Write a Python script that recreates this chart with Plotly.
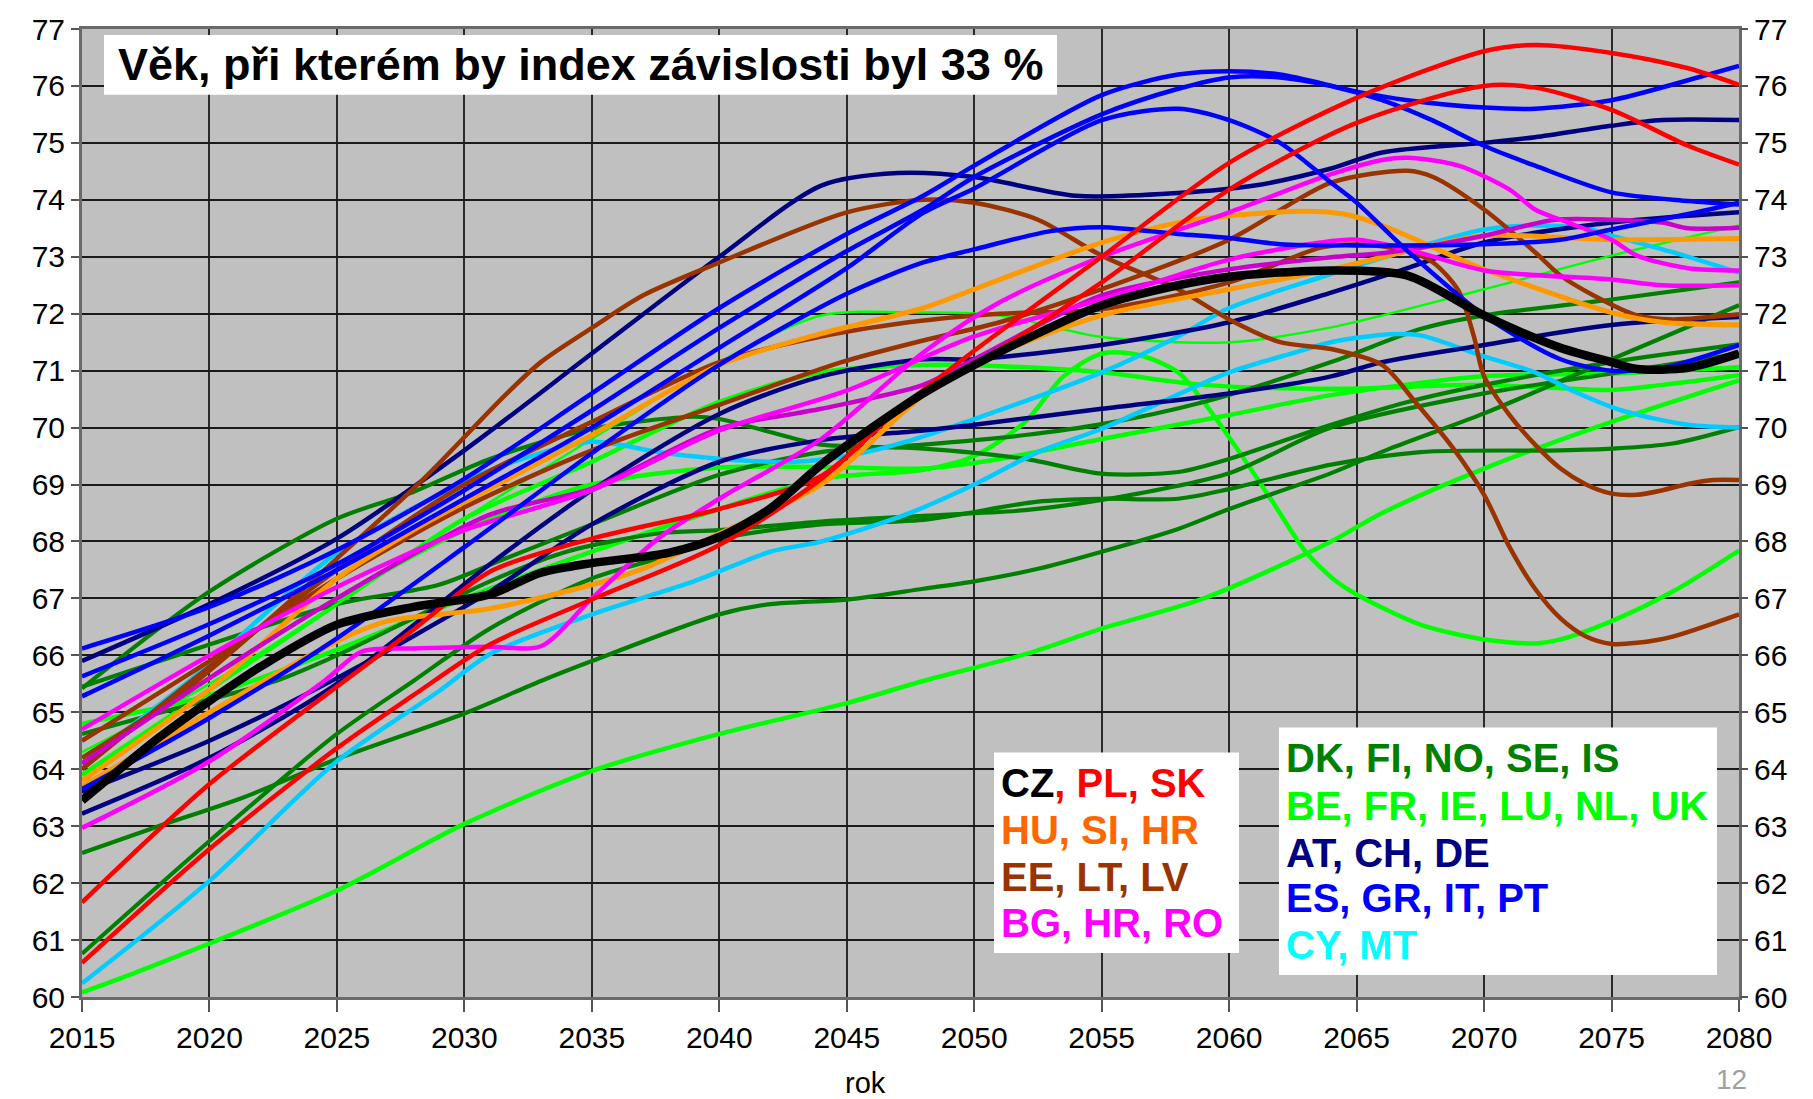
import plotly.graph_objects as go

# ---------------- data ----------------
CZ_YR = [2015, 2018, 2020, 2022, 2025, 2028, 2031, 2033, 2035, 2038, 2040, 2042, 2044, 2046, 2048, 2050, 2052, 2055, 2058, 2060, 2064, 2067, 2070, 2073, 2075, 2076, 2078, 2080]
CZ = [63.45, 64.55, 65.2, 65.8, 66.54, 66.85, 67.07, 67.45, 67.62, 67.8, 68.08, 68.58, 69.35, 70.0, 70.6, 71.1, 71.55, 72.15, 72.5, 72.65, 72.76, 72.67, 71.97, 71.4, 71.15, 71.03, 71.05, 71.3]

RED_A_YR = [2015, 2020, 2025, 2028, 2031, 2035, 2040, 2044, 2047, 2050, 2055, 2060, 2065, 2070, 2072, 2075, 2078, 2080]
RED_A = [61.66, 63.74, 65.45, 66.45, 67.47, 68.05, 68.57, 69.15, 70.3, 71.1, 72.55, 74.18, 75.35, 76.0, 75.97, 75.58, 74.95, 74.62]
RED_B_YR = [2015, 2020, 2025, 2028, 2031, 2035, 2040, 2044, 2047, 2050, 2055, 2060, 2065, 2070, 2072, 2075, 2078, 2080]
RED_B = [60.6, 62.6, 64.37, 65.3, 66.19, 66.98, 67.94, 69.1, 70.3, 71.35, 73.0, 74.65, 75.79, 76.61, 76.72, 76.58, 76.31, 76.02]

BLUE_1_YR = [2015, 2020, 2025, 2030, 2035, 2040, 2045, 2048, 2050, 2055, 2058, 2060, 2062, 2065, 2067, 2070, 2072, 2075, 2078, 2080]
BLUE_1 = [66.12, 66.85, 67.85, 69.1, 70.6, 72.1, 73.4, 74.07, 74.6, 75.84, 76.2, 76.26, 76.2, 75.9, 75.75, 75.62, 75.6, 75.75, 76.1, 76.35]
BLUE_2_YR = [2015, 2020, 2025, 2030, 2035, 2040, 2045, 2048, 2050, 2055, 2058, 2060, 2062, 2064, 2066, 2068, 2070, 2072, 2075, 2078, 2080]
BLUE_2 = [65.63, 66.55, 67.6, 68.9, 70.3, 71.75, 73.1, 73.83, 74.4, 75.5, 75.95, 76.15, 76.15, 76.0, 75.75, 75.39, 74.95, 74.6, 74.13, 73.98, 73.92]
BLUE_3_YR = [2015, 2020, 2025, 2030, 2035, 2040, 2045, 2048, 2050, 2055, 2058, 2060, 2062, 2064, 2065, 2067, 2070, 2073, 2075, 2077, 2080]
BLUE_3 = [65.28, 66.35, 67.5, 68.75, 70.0, 71.4, 72.8, 73.77, 74.2, 75.4, 75.6, 75.4, 75.0, 74.3, 73.95, 73.1, 71.97, 71.2, 71.0, 71.05, 71.45]
BLUE_4_YR = [2015, 2020, 2025, 2030, 2035, 2040, 2045, 2048, 2050, 2053, 2055, 2058, 2060, 2062, 2065, 2070, 2073, 2075, 2078, 2080]
BLUE_4 = [63.65, 64.9, 66.3, 67.9, 69.55, 71.1, 72.35, 72.9, 73.13, 73.45, 73.52, 73.4, 73.33, 73.22, 73.2, 73.22, 73.3, 73.48, 73.75, 73.95]

NAVY_1_YR = [2015, 2020, 2025, 2030, 2035, 2040, 2044, 2047, 2050, 2054, 2058, 2061, 2064, 2066, 2070, 2072, 2075, 2077, 2080]
NAVY_1 = [65.9, 66.9, 68.05, 69.6, 71.3, 73.0, 74.25, 74.47, 74.4, 74.07, 74.12, 74.25, 74.55, 74.83, 75.0, 75.1, 75.3, 75.4, 75.4]
NAVY_2_YR = [2015, 2020, 2025, 2031, 2035, 2040, 2044, 2048, 2050, 2055, 2060, 2064, 2067, 2070, 2075, 2080]
NAVY_2 = [63.22, 64.2, 65.5, 67.6, 68.9, 70.24, 70.9, 71.2, 71.2, 71.45, 71.85, 72.37, 72.8, 73.25, 73.6, 73.78]
NAVY_3_YR = [2015, 2020, 2025, 2031, 2035, 2040, 2044, 2048, 2050, 2055, 2060, 2064, 2066, 2070, 2075, 2080]
NAVY_3 = [63.6, 64.5, 65.6, 67.12, 68.3, 69.4, 69.78, 69.95, 70.05, 70.33, 70.6, 70.9, 71.15, 71.45, 71.8, 71.94]

BROWN_1_YR = [2015, 2019, 2022, 2025, 2028.4, 2031.6, 2033, 2035, 2037, 2040, 2045, 2048, 2050, 2052.5, 2055, 2058, 2060, 2062, 2064, 2066, 2067.3, 2068.8, 2070, 2071, 2072, 2073, 2074, 2075, 2076, 2077.4, 2080]
BROWN_1 = [64.2, 65.37, 66.5, 67.7, 69.1, 70.57, 71.15, 71.75, 72.32, 72.9, 73.78, 74.0, 73.95, 73.65, 73.02, 72.43, 71.9, 71.5, 71.38, 71.1, 70.45, 69.63, 68.82, 67.9, 67.17, 66.65, 66.33, 66.2, 66.22, 66.33, 66.72]
BROWN_2_YR = [2015, 2020, 2025, 2030, 2035, 2040, 2044.8, 2048, 2051, 2055, 2060, 2064, 2067, 2068, 2070, 2072, 2073, 2074.3, 2076, 2077.4, 2080]
BROWN_2 = [64.5, 65.9, 67.35, 68.6, 69.6, 70.4, 71.15, 71.53, 71.85, 72.43, 73.3, 74.3, 74.51, 74.4, 73.83, 73.08, 72.67, 72.32, 71.97, 71.9, 71.99]
BROWN_3_YR = [2015, 2020, 2025, 2030, 2035, 2040, 2044, 2048, 2051, 2055, 2060, 2063.6, 2065.3, 2067, 2068, 2069, 2069.6, 2070, 2071, 2072, 2073, 2074, 2075, 2076, 2077, 2078, 2079, 2080]
BROWN_3 = [64.0, 65.8, 67.5, 69.0, 70.1, 71.15, 71.6, 71.88, 72.0, 72.08, 72.55, 73.16, 73.21, 73.1, 72.9, 72.4, 71.6, 70.9, 70.22, 69.7, 69.28, 69.0, 68.84, 68.82, 68.9, 69.01, 69.08, 69.08]

ORANGE_1_YR = [2015, 2020, 2025, 2028, 2031, 2035, 2040, 2044, 2048, 2051, 2055, 2058, 2060, 2063, 2064.5, 2066, 2070, 2075, 2077, 2080]
ORANGE_1 = [63.8, 65.4, 67.35, 68.2, 68.93, 69.87, 71.1, 71.65, 72.1, 72.6, 73.25, 73.6, 73.72, 73.8, 73.75, 73.55, 72.78, 72.02, 71.85, 71.8]
ORANGE_2_YR = [2015, 2020, 2025, 2027, 2031, 2035, 2037, 2040, 2044, 2048, 2050.4, 2055, 2060, 2064, 2067, 2070, 2075, 2080]
ORANGE_2 = [63.7, 65.0, 66.25, 66.6, 66.82, 67.24, 67.52, 68.14, 69.0, 70.57, 71.2, 71.97, 72.43, 72.78, 73.1, 73.37, 73.3, 73.32]

MAGENTA_1_YR = [2015, 2020, 2024.5, 2026, 2028, 2031, 2033, 2035, 2037.6, 2040, 2044, 2048, 2051, 2055, 2060, 2064, 2066, 2067, 2069, 2071, 2072, 2073, 2075, 2076, 2078, 2080]
MAGENTA_1 = [62.97, 64.14, 65.55, 66.07, 66.12, 66.15, 66.16, 67.0, 68.05, 68.75, 69.8, 71.32, 72.2, 73.0, 73.78, 74.45, 74.7, 74.74, 74.6, 74.18, 73.83, 73.65, 73.3, 73.02, 72.8, 72.76]
MAGENTA_2_YR = [2015, 2020, 2025, 2030, 2035, 2040, 2045, 2050, 2055, 2060, 2063.6, 2065, 2067, 2070, 2075, 2077, 2080]
MAGENTA_2 = [64.7, 66.0, 67.2, 68.2, 68.9, 69.95, 70.65, 71.6, 72.25, 72.95, 73.25, 73.3, 73.13, 72.76, 72.6, 72.5, 72.5]
PURPLE_YR = [2015, 2020, 2025, 2031, 2035, 2040, 2044, 2048, 2050, 2055, 2060, 2064, 2066.3, 2070, 2072.8, 2075, 2077, 2078, 2080]
PURPLE = [64.1, 65.6, 67.0, 68.47, 68.93, 69.98, 70.33, 70.75, 71.2, 72.32, 72.78, 72.99, 73.08, 73.37, 73.65, 73.65, 73.6, 73.5, 73.51]

CYAN_1_YR = [2015, 2018.7, 2020, 2025, 2030, 2031.6, 2035, 2037.6, 2040, 2043, 2045, 2047.3, 2050, 2055, 2058, 2060, 2063.6, 2066.3, 2070, 2072, 2074, 2075, 2077.4, 2080]
CYAN_1 = [64.1, 65.37, 65.85, 67.8, 69.05, 69.35, 69.75, 69.57, 69.45, 69.4, 69.5, 69.75, 70.15, 70.97, 71.6, 72.1, 72.64, 73.02, 73.48, 73.55, 73.5, 73.37, 73.08, 72.72]
CYAN_2_YR = [2015, 2020, 2025, 2029, 2031, 2035, 2039, 2042, 2044, 2047.3, 2050, 2052.5, 2055, 2060, 2062.6, 2064, 2066.3, 2067.5, 2070, 2072, 2073.6, 2075.4, 2078, 2080]
CYAN_2 = [60.24, 62.04, 64.14, 65.37, 66.02, 66.72, 67.3, 67.82, 68.0, 68.47, 69.0, 69.57, 69.98, 70.97, 71.32, 71.5, 71.64, 71.62, 71.25, 70.97, 70.62, 70.3, 70.05, 70.0]

DGREEN_A_YR = [2015, 2020, 2025, 2028, 2031, 2035, 2039, 2040, 2043, 2044, 2048, 2052, 2055, 2058, 2060, 2064, 2067, 2070, 2075, 2080]
DGREEN_A = [65.42, 67.12, 68.4, 68.87, 69.45, 69.98, 70.19, 70.15, 69.8, 69.7, 69.63, 69.45, 69.19, 69.22, 69.45, 70.05, 70.45, 70.75, 71.15, 71.46]
DGREEN_B_YR = [2015, 2020, 2025, 2029, 2031.6, 2035, 2040, 2044, 2048, 2052, 2055, 2059, 2064, 2067.5, 2070, 2075, 2080]
DGREEN_B = [65.45, 66.19, 66.9, 67.24, 67.7, 68.3, 69.17, 69.57, 69.7, 69.87, 70.06, 70.45, 71.15, 71.73, 71.97, 72.25, 72.55]
DGREEN_C_YR = [2015, 2018, 2021.3, 2025, 2030, 2033, 2035, 2040, 2042, 2045, 2048, 2050, 2052.5, 2055, 2058, 2060, 2064, 2066.3, 2070, 2075, 2080]
DGREEN_C = [62.53, 63.0, 63.5, 64.18, 64.98, 65.55, 65.9, 66.72, 66.9, 66.98, 67.17, 67.3, 67.52, 67.82, 68.22, 68.57, 69.2, 69.63, 70.25, 71.2, 72.15]
DGREEN_D_YR = [2015, 2020, 2025, 2028, 2031, 2035, 2037.6, 2040, 2044, 2048, 2052.5, 2055, 2058, 2060, 2064, 2067.5, 2073, 2075, 2077.4, 2080]
DGREEN_D = [60.76, 62.74, 64.62, 65.55, 66.47, 67.35, 67.7, 68.05, 68.3, 68.38, 68.7, 68.75, 68.75, 68.92, 69.35, 69.57, 69.6, 69.63, 69.72, 70.01]
DGREEN_E_YR = [2015, 2018.7, 2022.6, 2025, 2031, 2034, 2037.6, 2040, 2044, 2048, 2052, 2055, 2060, 2064, 2070, 2075, 2080]
DGREEN_E = [64.62, 65.07, 65.55, 66.0, 67.3, 67.82, 68.14, 68.2, 68.35, 68.45, 68.55, 68.73, 69.2, 70.0, 70.6, 70.95, 71.3]

LGREEN_1_YR = [2015, 2017, 2020, 2025, 2030, 2035, 2040, 2045, 2048, 2052, 2055, 2059, 2064, 2066, 2070, 2075, 2080]
LGREEN_1 = [60.08, 60.41, 60.94, 61.87, 63.04, 63.97, 64.62, 65.16, 65.55, 66.02, 66.47, 67.0, 68.0, 68.5, 69.28, 70.1, 70.83]
LGREEN_2_YR = [2015, 2020, 2025, 2030, 2035, 2040, 2044, 2048, 2050, 2052, 2053.5, 2055, 2056.5, 2058, 2059, 2060.4, 2061.7, 2063, 2064.2, 2065, 2067.5, 2070, 2072, 2073, 2075, 2077.4, 2080]
LGREEN_2 = [64.8, 65.3, 66.1, 67.0, 67.82, 68.57, 69.1, 69.26, 69.5, 70.1, 70.9, 71.3, 71.27, 70.97, 70.45, 69.57, 68.7, 67.82, 67.3, 67.07, 66.54, 66.28, 66.21, 66.28, 66.6, 67.12, 67.84]
LGREEN_3_YR = [2015, 2020, 2025, 2030, 2035, 2040, 2044, 2048, 2052, 2055, 2059, 2064, 2070, 2075, 2077, 2080]
LGREEN_3 = [63.9, 65.4, 66.9, 68.4, 69.4, 70.45, 70.97, 71.1, 71.06, 70.97, 70.75, 70.68, 70.75, 70.66, 70.75, 70.92]
LGREEN_4_YR = [2015, 2020, 2025, 2030, 2035, 2040, 2044, 2048, 2051, 2055, 2060, 2064, 2070, 2075, 2080]
LGREEN_4 = [64.3, 65.5, 66.9, 68.4, 69.8, 71.15, 71.97, 72.02, 71.97, 71.59, 71.5, 71.76, 72.43, 73.02, 73.55]
LGREEN_5_YR = [2015, 2020, 2025, 2030, 2035, 2040, 2045, 2048, 2051, 2055, 2060, 2064, 2070, 2075, 2080]
LGREEN_5 = [64.2, 65.6, 67.0, 68.2, 69.0, 69.3, 69.3, 69.28, 69.45, 69.8, 70.22, 70.57, 70.9, 70.95, 71.06]

# legend rows (text, colour)
LEGEND_LEFT = [("CZ", "#000000", ", PL, SK", "#FF0000"),
               ("HU, SI, HR", "#FF6600", "", ""),
               ("EE, LT, LV", "#993300", "", ""),
               ("BG, HR, RO", "#FF00FF", "", "")]
LEGEND_RIGHT = [("DK, FI, NO, SE, IS", "#008000"),
                ("BE, FR, IE, LU, NL, UK", "#00FF00"),
                ("AT, CH, DE", "#000080"),
                ("ES, GR, IT, PT", "#0000FF"),
                ("CY, MT", "#00FFFF")]

TITLE = "Věk, při kterém by index závislosti byl 33 %"
X_TICKS = list(range(2015, 2081, 5))
Y_TICKS = list(range(60, 78))

# ---------------- figure ----------------
W, H = 1813, 1099
L, R, T, B = 82, 74, 27, 102
PW, PH = W - L - R, H - T - B

def px(x):
    return (x - L) / PW

def py(y):
    return (H - B - y) / PH

series = [
    (LGREEN_1_YR, LGREEN_1, "#00FF00", 4.5),
    (LGREEN_5_YR, LGREEN_5, "#00FF00", 4.5),
    (LGREEN_3_YR, LGREEN_3, "#00FF00", 4.5),
    (LGREEN_2_YR, LGREEN_2, "#00FF00", 4.5),
    (DGREEN_D_YR, DGREEN_D, "#008000", 4.2),
    (DGREEN_E_YR, DGREEN_E, "#008000", 4.2),
    (DGREEN_C_YR, DGREEN_C, "#008000", 4.2),
    (DGREEN_A_YR, DGREEN_A, "#008000", 4.2),
    (DGREEN_B_YR, DGREEN_B, "#008000", 4.2),
    (LGREEN_4_YR, LGREEN_4, "#00FF00", 2.5),
    (CYAN_2_YR, CYAN_2, "#00CCFF", 4.5),
    (CYAN_1_YR, CYAN_1, "#00CCFF", 4.5),
    (NAVY_3_YR, NAVY_3, "#000080", 4.5),
    (NAVY_2_YR, NAVY_2, "#000080", 4.5),
    (NAVY_1_YR, NAVY_1, "#000080", 4.5),
    (BROWN_3_YR, BROWN_3, "#993300", 4.5),
    (BROWN_2_YR, BROWN_2, "#993300", 4.5),
    (BROWN_1_YR, BROWN_1, "#993300", 4.5),
    (ORANGE_2_YR, ORANGE_2, "#FF9900", 5),
    (ORANGE_1_YR, ORANGE_1, "#FF9900", 5),
    (PURPLE_YR, PURPLE, "#CC00CC", 4.5),
    (MAGENTA_2_YR, MAGENTA_2, "#FF00FF", 4.5),
    (MAGENTA_1_YR, MAGENTA_1, "#FF00FF", 4.5),
    (BLUE_4_YR, BLUE_4, "#0000FF", 4.5),
    (BLUE_3_YR, BLUE_3, "#0000FF", 4.5),
    (BLUE_2_YR, BLUE_2, "#0000FF", 4.5),
    (BLUE_1_YR, BLUE_1, "#0000FF", 4.5),
    (RED_A_YR, RED_A, "#FF0000", 4.5),
    (RED_B_YR, RED_B, "#FF0000", 4.5),
]

fig = go.Figure()
for xs, ys, col, w in series:
    fig.add_trace(go.Scatter(x=xs, y=ys, mode="lines",
                             line=dict(color=col, width=w, shape="spline", smoothing=0.8),
                             showlegend=False, hoverinfo="skip"))
# CZ on the mirrored right axis (same range) so it is on top and gives the right-hand scale
fig.add_trace(go.Scatter(x=CZ_YR, y=CZ, mode="lines", yaxis="y2",
                         line=dict(color="#000000", width=8.5, shape="spline", smoothing=0.8),
                         showlegend=False, hoverinfo="skip"))

FONT = "Liberation Sans, Arial, sans-serif"
tickfont = dict(family=FONT, size=30, color="#000000")

fig.update_layout(
    width=W, height=H, autosize=False,
    margin=dict(l=L, r=R, t=T, b=B, pad=0),
    paper_bgcolor="#FFFFFF", plot_bgcolor="#C0C0C0",
    showlegend=False,
    xaxis=dict(range=[2015, 2080], tickvals=X_TICKS, showgrid=True,
               gridcolor="#2a2a2a", gridwidth=1.6, zeroline=False,
               showline=True, linecolor="#6a6a6a", linewidth=3, mirror=True,
               tickfont=tickfont, ticks="outside", ticklen=12, tickcolor="#555555", tickwidth=2),
    yaxis=dict(range=[60, 77], tickvals=Y_TICKS, showgrid=True,
               gridcolor="#1a1a1a", gridwidth=1.6, zeroline=False,
               showline=True, linecolor="#6a6a6a", linewidth=3, mirror=True,
               tickfont=tickfont, ticks="outside", ticklen=8, tickcolor="#555555", tickwidth=2),
    yaxis2=dict(range=[60, 77], tickvals=Y_TICKS, overlaying="y", side="right",
                showgrid=False, zeroline=False, showline=False,
                tickfont=tickfont, ticks="outside", ticklen=8, tickcolor="#555555", tickwidth=2),
)

shapes = []
# title box
shapes.append(dict(type="rect", xref="paper", yref="paper",
                   x0=px(104), x1=px(1057), y0=py(93), y1=py(33),
                   fillcolor="#FFFFFF", line=dict(width=0), layer="above"))
# legend boxes
shapes.append(dict(type="rect", xref="paper", yref="paper",
                   x0=px(994), x1=px(1239), y0=py(953), y1=py(752),
                   fillcolor="#FFFFFF", line=dict(width=0), layer="above"))
shapes.append(dict(type="rect", xref="paper", yref="paper",
                   x0=px(1279), x1=px(1717), y0=py(975), y1=py(727),
                   fillcolor="#FFFFFF", line=dict(width=0), layer="above"))
fig.update_layout(shapes=shapes)

ann = []
ann.append(dict(text="<b>" + TITLE + "</b>", xref="paper", yref="paper",
                x=px(580), y=py(63), xanchor="center", yanchor="middle",
                showarrow=False, font=dict(family=FONT, size=45, color="#000000")))
row_y_left = [783, 830, 877, 923]
for (t1, c1, t2, c2), yy in zip(LEGEND_LEFT, row_y_left):
    txt = "<b><span style='color:%s'>%s</span>" % (c1, t1)
    if t2:
        txt += "<span style='color:%s'>%s</span>" % (c2, t2)
    txt += "</b>"
    ann.append(dict(text=txt, xref="paper", yref="paper", x=px(999), y=py(yy),
                    xanchor="left", yanchor="middle", showarrow=False,
                    font=dict(family=FONT, size=40, color=c1)))
row_y_right = [758, 806, 853, 898, 945]
for (t1, c1), yy in zip(LEGEND_RIGHT, row_y_right):
    ann.append(dict(text="<b>%s</b>" % t1, xref="paper", yref="paper", x=px(1284), y=py(yy),
                    xanchor="left", yanchor="middle", showarrow=False,
                    font=dict(family=FONT, size=40, color=c1)))
ann.append(dict(text="rok", xref="paper", yref="paper", x=px(865), y=py(1083),
                xanchor="center", yanchor="middle", showarrow=False,
                font=dict(family=FONT, size=29, color="#000000")))
ann.append(dict(text="12", xref="paper", yref="paper", x=px(1731), y=py(1080),
                xanchor="center", yanchor="middle", showarrow=False,
                font=dict(family=FONT, size=28, color="#A0A0A0")))
fig.update_layout(annotations=ann)

fig.write_html("out.html", config={"displayModeBar": False},
               post_script="document.body.style.margin='0';document.body.style.overflow='hidden';")
